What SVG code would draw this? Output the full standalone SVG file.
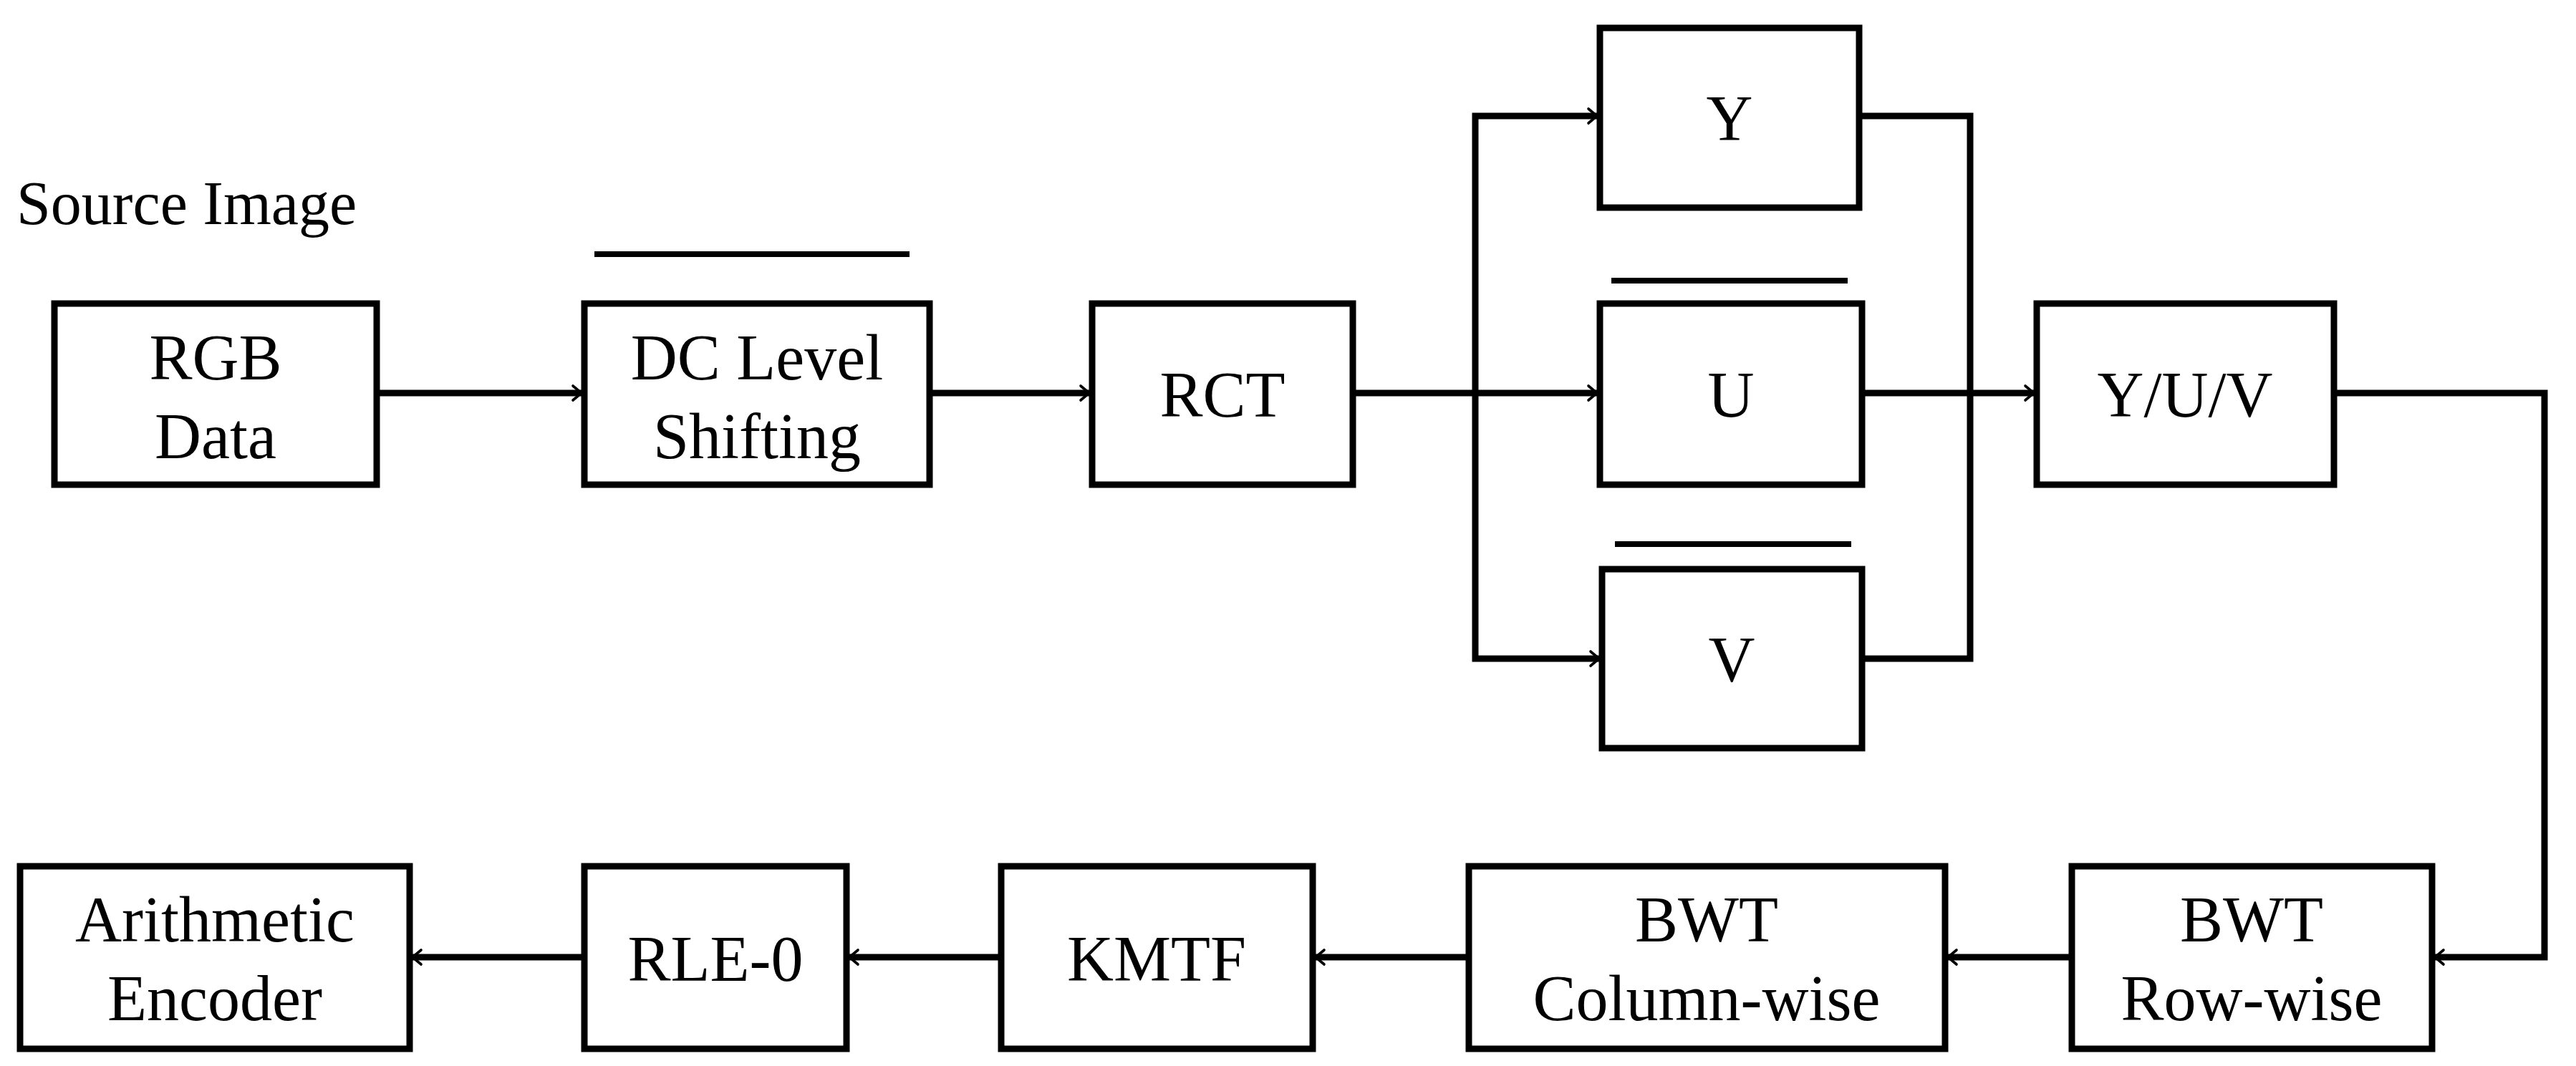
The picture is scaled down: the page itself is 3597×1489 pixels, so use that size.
<svg xmlns="http://www.w3.org/2000/svg" width="3597" height="1489" viewBox="0 0 3597 1489">
<style>
rect{fill:#fff;stroke:#000;stroke-width:9}
text{font-family:"Liberation Serif",serif;font-size:90px;text-anchor:middle;fill:#000}
.c{fill:none;stroke:#000;stroke-width:9}
.o{stroke:#000;stroke-width:8}
</style>
<defs><marker id="a" viewBox="0 0 20 20" refX="18" refY="10" markerWidth="8" markerHeight="8" markerUnits="userSpaceOnUse" orient="auto" overflow="visible"><path d="M-30,-25 L0,0 L-30,25" transform="translate(18,10)" fill="none" stroke="#000" stroke-width="9" stroke-linecap="round"/></marker></defs>
<text x="23" y="313" style="text-anchor:start;font-size:86px">Source Image</text>
<g id="rgb"><rect x="76" y="424" width="450" height="253"/><text x="301" y="530">RGB</text><text x="301" y="640">Data</text></g>
<g id="dc"><line class="o" x1="830" y1="355" x2="1270" y2="355"/><rect x="816" y="424" width="482" height="253"/><text x="1057" y="530">DC Level</text><text x="1057" y="640">Shifting</text></g>
<g id="rct"><rect x="1525" y="424" width="364" height="253"/><text x="1707" y="582">RCT</text></g>
<g id="y"><rect x="2234" y="39" width="362" height="251"/><text x="2415" y="196">Y</text></g>
<g id="u"><line class="o" x1="2250" y1="392" x2="2580" y2="392"/><rect x="2234" y="424" width="366" height="253"/><text x="2417" y="582">U</text></g>
<g id="v"><line class="o" x1="2255" y1="760" x2="2585" y2="760"/><rect x="2237" y="795" width="363" height="250"/><text x="2418" y="952">V</text></g>
<g id="yuv"><rect x="2844" y="424" width="415" height="253"/><text x="3051" y="582">Y/U/V</text></g>
<g id="bwtr"><rect x="2893" y="1210" width="503" height="255"/><text x="3144" y="1315">BWT</text><text x="3144" y="1425">Row-wise</text></g>
<g id="bwtc"><rect x="2051" y="1210" width="665" height="255"/><text x="2383" y="1315">BWT</text><text x="2383" y="1425">Column-wise</text></g>
<g id="kmtf"><rect x="1398" y="1210" width="435" height="255"/><text x="1615" y="1370">KMTF</text></g>
<g id="rle"><rect x="816" y="1210" width="366" height="255"/><text x="999" y="1370">RLE-0</text></g>
<g id="ae"><rect x="28" y="1210" width="544" height="255"/><text x="300" y="1315">Arithmetic</text><text x="300" y="1425">Encoder</text></g>
<g id="connectors">
<path class="c" d="M526,549 H812" marker-end="url(#a)"/>
<path class="c" d="M1298,549 H1521" marker-end="url(#a)"/>
<path class="c" d="M1889,549 H2230" marker-end="url(#a)"/>
<path class="c" d="M2060,549 V162 H2230" marker-end="url(#a)"/>
<path class="c" d="M2060,549 V920 H2233" marker-end="url(#a)"/>
<path class="c" d="M2596,162 H2751 V920 H2600"/>
<path class="c" d="M2600,549 H2840" marker-end="url(#a)"/>
<path class="c" d="M3259,549 H3553 V1337 H3400" marker-end="url(#a)"/>
<path class="c" d="M2893,1337 H2720" marker-end="url(#a)"/>
<path class="c" d="M2051,1337 H1837" marker-end="url(#a)"/>
<path class="c" d="M1398,1337 H1186" marker-end="url(#a)"/>
<path class="c" d="M816,1337 H576" marker-end="url(#a)"/>
</g>
</svg>
